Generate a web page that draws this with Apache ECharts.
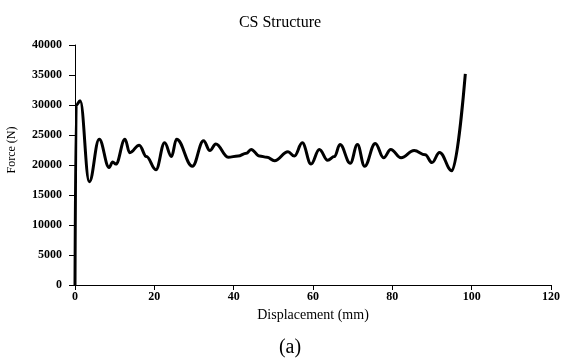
<!DOCTYPE html>
<html>
<head>
<meta charset="utf-8">
<script src="https://cdn.jsdelivr.net/npm/echarts@6/dist/echarts.min.js"></script>
<style>html,body{margin:0;padding:0;background:#fff;}#chart{width:563px;height:363px;}</style>
</head>
<body>
<div id="chart"></div>
<script>
const displacement = [0, 0.3, 1.3, 3.6, 6.1, 8.6, 9.5, 10.3, 12.6, 13.8, 16.2, 18.0, 20.4, 22.6, 24.3, 25.6, 29.6, 32.4, 34.0, 35.5, 38.6, 41.1, 43.2, 44.4, 46.5, 48.4, 50.3, 53.7, 55.3, 57.3, 59.5, 61.6, 63.7, 65.4, 66.8, 69.4, 71.2, 73.0, 75.7, 77.8, 79.6, 82.2, 85.5, 88.3, 90.0, 91.9, 95.0, 98.4];
const force = [0, 30000, 30700, 17200, 24300, 19600, 20500, 20150, 24300, 22050, 23300, 21400, 19200, 23700, 21400, 24300, 19800, 24050, 22400, 23500, 21300, 21500, 21950, 22600, 21500, 21300, 20700, 22200, 21500, 23700, 20150, 22600, 20800, 21400, 23400, 20300, 23400, 19800, 23600, 21200, 22600, 21200, 22400, 21700, 20400, 22100, 19050, 35200];
const xTicks = [0, 20, 40, 60, 80, 100, 120];
const yTicks = [0, 5000, 10000, 15000, 20000, 25000, 30000, 35000, 40000];

const data = displacement.map((d, i) => [d, force[i]]);
const serif = '"Liberation Serif", "DejaVu Serif", serif';
const chart = echarts.init(document.getElementById('chart'), null, {renderer: 'canvas'});
chart.setOption({
  animation: false,
  backgroundColor: '#fff',
  title: [
    {text: 'CS Structure', left: 275, top: 10, textAlign: 'center',
     textStyle: {fontFamily: serif, fontSize: 16, fontWeight: 'normal', color: '#000'}},
    {text: '(a)', left: 285, top: 333, textAlign: 'center',
     textStyle: {fontFamily: serif, fontSize: 20, fontWeight: 'normal', color: '#000'}}
  ],
  graphic: [{
    type: 'text', x: 12, y: 150, rotation: Math.PI / 2,
    style: {text: 'Force (N)', fill: '#000', font: '12px ' + serif, align: 'center', verticalAlign: 'middle'}
  }],
  grid: {left: 75, right: 11, top: 45, bottom: 78, containLabel: false},
  xAxis: {
    type: 'value', min: xTicks[0], max: xTicks[xTicks.length - 1], interval: 20,
    name: 'Displacement (mm)', nameLocation: 'middle', nameGap: 23,
    nameTextStyle: {fontFamily: serif, fontSize: 14, color: '#000'},
    axisLine: {lineStyle: {color: '#000', width: 1}},
    axisTick: {show: true, inside: false, length: 5, lineStyle: {color: '#000'}},
    axisLabel: {fontFamily: serif, fontSize: 12, fontWeight: 'bold', color: '#000', margin: 6,
      formatter: v => String(v)},
    splitLine: {show: false}
  },
  yAxis: {
    type: 'value', min: yTicks[0], max: yTicks[yTicks.length - 1], interval: 5000,
    axisLine: {show: true, lineStyle: {color: '#000', width: 1}},
    axisTick: {show: true, inside: false, length: 6, lineStyle: {color: '#000'}},
    axisLabel: {fontFamily: serif, fontSize: 12, fontWeight: 'bold', color: '#000', margin: 13,
      formatter: v => String(v)},
    splitLine: {show: false}
  },
  series: [{
    type: 'line', data: data, smooth: 0.4, smoothMonotone: 'x', symbol: 'none',
    lineStyle: {color: '#000', width: 3}
  }]
});
</script>
</body>
</html>
